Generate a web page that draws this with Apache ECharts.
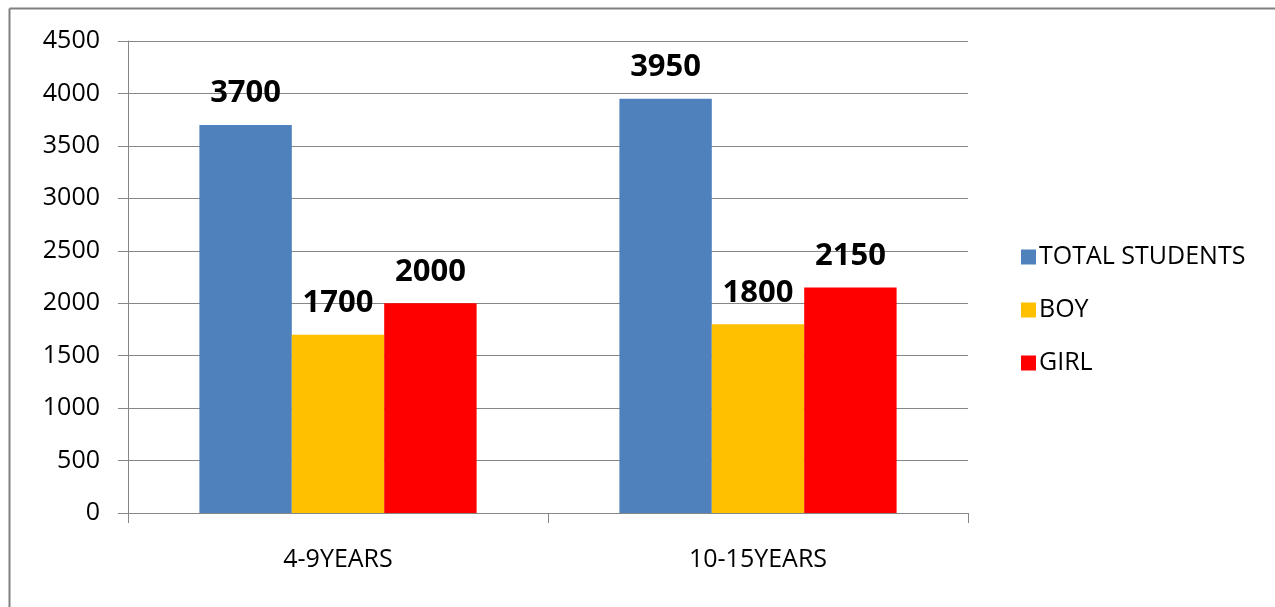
<!DOCTYPE html>
<html>
<head>
<meta charset="utf-8">
<script src="https://cdn.jsdelivr.net/npm/echarts@6/dist/echarts.min.js"></script>
<style>
html,body{margin:0;padding:0;background:#fff;}
#chart{width:1275px;height:607px;}
</style>
</head>
<body>
<div id="chart"></div>
<script>
var categories = ['4-9YEARS', '10-15YEARS'];
var totalStudents = [3700, 3950];
var boys = [1700, 1800];
var girls = [2000, 2150];
var seriesNames = ['TOTAL STUDENTS', 'BOY', 'GIRL'];
var seriesColors = ['#4F81BD', '#FFC000', '#FF0000'];

var FONT = '"Open Sans", "Liberation Sans", sans-serif';
var chart = echarts.init(document.getElementById('chart'), null, {renderer: 'canvas'});

function barSeries(name, data, color) {
  return {
    name: name,
    type: 'bar',
    data: data,
    barWidth: '22%',
    barGap: '0%',
    itemStyle: {color: color},
    label: {
      show: true,
      position: 'top',
      distance: 16,
      fontFamily: FONT,
      fontWeight: 'bold',
      fontSize: 31,
      color: '#000'
    },
    emphasis: {disabled: true}
  };
}

chart.setOption({
  animation: false,
  backgroundColor: '#fff',
  graphic: [
    {type: 'line', shape: {x1: 9.5, y1: 8.5, x2: 9.5, y2: 607}, style: {stroke: '#808080', lineWidth: 2}},
    {type: 'line', shape: {x1: 9.5, y1: 8.5, x2: 1275, y2: 8.5}, style: {stroke: '#808080', lineWidth: 2}}
  ],
  grid: {left: 128, right: 307, top: 41, bottom: 94, containLabel: false},
  legend: {
    orient: 'vertical',
    left: 1016,
    top: 239,
    itemWidth: 15,
    itemHeight: 15,
    itemGap: 27,
    icon: 'rect',
    textStyle: {fontFamily: FONT, fontSize: 25, lineHeight: 26, color: '#000', padding: [0, 0, 0, -2]},
    data: seriesNames
  },
  xAxis: {
    type: 'category',
    data: categories,
    axisLine: {lineStyle: {color: '#868686', width: 1}},
    axisTick: {show: true, length: 10, lineStyle: {color: '#868686'}},
    axisLabel: {fontFamily: FONT, fontSize: 25, color: '#000', margin: 34}
  },
  yAxis: {
    type: 'value',
    min: 0,
    max: 4500,
    interval: 500,
    axisLine: {show: true, lineStyle: {color: '#868686', width: 1}},
    axisTick: {show: true, length: 10, lineStyle: {color: '#868686'}},
    splitLine: {lineStyle: {color: '#868686', width: 1}},
    axisLabel: {fontFamily: FONT, fontSize: 25, color: '#000', margin: 28, formatter: function (v) { return String(v); }}
  },
  series: [
    barSeries(seriesNames[0], totalStudents, seriesColors[0]),
    barSeries(seriesNames[1], boys, seriesColors[1]),
    barSeries(seriesNames[2], girls, seriesColors[2])
  ]
});
</script>
</body>
</html>
